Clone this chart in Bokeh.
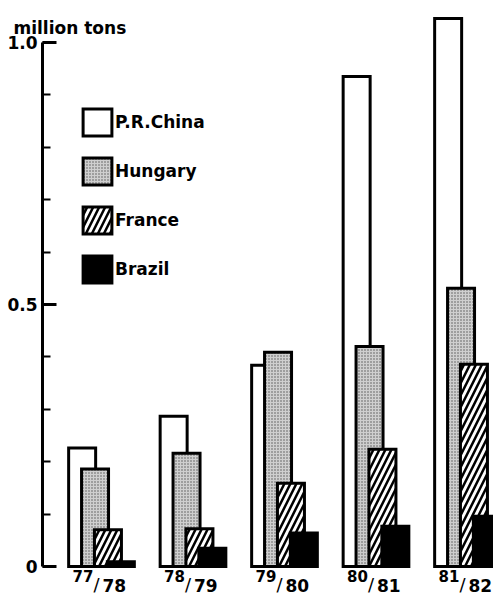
import numpy as np
from bokeh.plotting import figure
from bokeh.models import FixedTicker, Legend, LegendItem, Label, LinearAxis
from bokeh.core.properties import value
from bokeh.embed import file_html
from bokeh.resources import INLINE

# ---- data (million tons) ----
seasons_num = ["77", "78", "79", "80", "81"]
seasons_den = ["78", "79", "80", "81", "82"]
countries = ["P.R.China", "Hungary", "France", "Brazil"]
china = [0.226, 0.287, 0.384, 0.935, 1.046]
hungary = [0.186, 0.216, 0.409, 0.420, 0.531]
france = [0.070, 0.072, 0.159, 0.224, 0.386]
brazil = [0.009, 0.035, 0.064, 0.077, 0.096]
y_ticks = [0, 0.5, 1.0]
y_minor = [0.0, 0.1, 0.2, 0.3, 0.4, 0.5, 0.6, 0.7, 0.8, 0.9, 1.0]

FONT = "DejaVu Sans"

p = figure(width=493, height=595, x_range=(-1.1038, 4.2842), y_range=(-0.0553, 1.0802),
           output_backend="svg", toolbar_location=None, x_axis_location=None, y_axis_location=None,
           min_border_left=0, min_border_right=0, min_border_top=0, min_border_bottom=0)
p.grid.visible = False
p.outline_line_color = None
p.background_fill_color = "white"
p.border_fill_color = "white"

groups = np.arange(len(china))
bw = 0.295
off = 0.141
styles = [
    dict(fill_color="white"),
    dict(fill_color="#cfcfcf", hatch_pattern="dot", hatch_scale=3, hatch_weight=1.4, hatch_color="#555555"),
    dict(fill_color="white", hatch_pattern="right_diagonal_line", hatch_scale=12, hatch_weight=2.5, hatch_color="black"),
    dict(fill_color="black"),
]
series = [china, hungary, france, brazil]
renderers = []
for j, (vals, st) in enumerate(zip(series, styles)):
    r = p.vbar(x=groups + (j - 1.5) * off, top=vals, bottom=0, width=bw,
               line_color="black", line_width=3, line_join="miter", **st)
    renderers.append(r)

# x labels like 77/78 with raised numerator
zeros = [0] * len(groups)
p.text(x=groups, y=zeros, text=seasons_num, text_align="right", text_baseline="alphabetic",
       x_offset=-8, y_offset=9, text_font=value(FONT), text_font_size="15px",
       text_font_style="bold", text_color="black")
p.text(x=groups, y=zeros, text=["/"] * len(groups), text_align="center", text_baseline="alphabetic",
       x_offset=-5, y_offset=18, text_font=value(FONT), text_font_size="18px", text_color="black")
p.text(x=groups, y=zeros, text=seasons_den, text_align="left", text_baseline="alphabetic",
       x_offset=1, y_offset=19, text_font=value(FONT), text_font_size="17px",
       text_font_style="bold", text_color="black")

# y axis, fixed inside the frame
ax = LinearAxis(fixed_location=-0.6448)
ax.ticker = FixedTicker(ticks=y_ticks, minor_ticks=y_minor)
ax.bounds = (0, 1.0)
ax.major_label_overrides = {0: "0", 0.5: "0.5", 1: "1.0"}
ax.major_tick_in = 14
ax.major_tick_out = 0
ax.minor_tick_in = 8
ax.minor_tick_out = 0
ax.axis_line_width = 3
ax.major_tick_line_width = 3
ax.minor_tick_line_width = 2
ax.major_label_standoff = 5
ax.major_label_text_font = FONT
ax.major_label_text_font_size = "17px"
ax.major_label_text_font_style = "bold"
ax.major_label_text_color = "black"
p.add_layout(ax, "left")

p.add_layout(Label(x=-0.9617, y=1.0286, text="million tons", text_baseline="alphabetic",
                   text_font=FONT, text_font_size="17px", text_font_style="bold", text_color="black"))

legend = Legend(items=[LegendItem(label=c, renderers=[r]) for c, r in zip(countries, renderers)],
                location=(79, 309), glyph_width=36, glyph_height=34, spacing=15,
                label_standoff=0, padding=0, margin=0, border_line_color=None,
                background_fill_alpha=0, label_text_font=FONT, label_text_font_size="17px",
                label_text_font_style="bold", label_text_color="black", label_height=34)
p.add_layout(legend)

open("out.html", "w").write(file_html(p, INLINE))
